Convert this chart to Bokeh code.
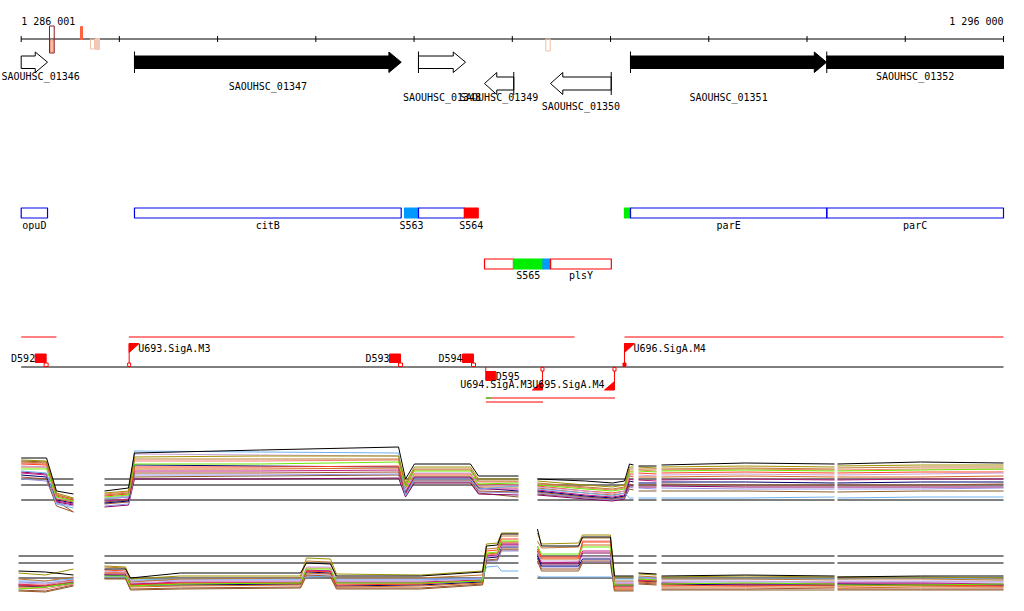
from bokeh.plotting import figure
from bokeh.models import Range1d, ColumnDataSource
from bokeh.core.properties import value
from bokeh.embed import file_html
from bokeh.resources import INLINE

# ------------------------------------------------------------------ data
VIEW_START = 1286001
VIEW_END = 1296000
RULER_TICKS = [1286001, 1287000, 1288000, 1289000, 1290000, 1291000,
               1292000, 1293000, 1294000, 1295000, 1296000]
RULER_LABELS = ["1 286 001", "1 296 000"]

# small variant marks on the ruler
MARK_START = [1286289, 1286605, 1286706, 1286757, 1291341]
MARK_END = [1286337, 1286625, 1286747, 1286798, 1291386]

# annotated genes
GENE_NAMES = ["SAOUHSC_01346", "SAOUHSC_01347", "SAOUHSC_01348", "SAOUHSC_01349",
              "SAOUHSC_01350", "SAOUHSC_01351", "SAOUHSC_01352"]
GENE_START = [1285900, 1287154, 1290045, 1290717, 1291389, 1292203, 1294201]
GENE_END = [1286269, 1289869, 1290524, 1291015, 1292007, 1294199, 1296400]
GENE_STRAND = ["+", "+", "+", "-", "-", "+", "+"]

# feature track
FEAT_NAMES = ["opuD", "citB", "S563", "", "S564", "", "S565", "", "plsY", "", "parE", "parC"]
FEAT_START = [1286001, 1287154, 1289903, 1290045, 1290513, 1290717, 1291012, 1291312,
              1291389, 1292142, 1292203, 1294201]
FEAT_END = [1286269, 1289869, 1290045, 1290513, 1290653, 1291012, 1291312, 1291389,
            1292008, 1292203, 1294201, 1296000]

# terminators and promoters
TERM_NAMES = ["D592", "D593", "D594", "D595"]
TERM_POS = [1286255, 1289862, 1290605, 1290730]
TERM_STRAND = ["+", "+", "+", "-"]
PROM_NAMES = ["U693.SigA.M3", "U694.SigA.M3", "U695.SigA.M4", "U696.SigA.M4"]
PROM_POS = [1287100, 1291307, 1292040, 1292142]
PROM_STRAND = ["+", "-", "-", "+"]
TU_START = [1286001, 1287096, 1292142]
TU_END = [1286360, 1291633, 1296000]
AS_START = [1290731, 1290731]
AS_END = [1292046, 1291313]

# expression tracks (arbitrary signal units), positions per segment
UP_POS_A = [1286001, 1286259, 1286360, 1286533]
UP_POS_B = [1286849, 1287093, 1287154, 1288437, 1289842, 1289913, 1290004, 1290574, 1290656, 1291063]
UP_POS_C = [1291256, 1291745, 1292020, 1292142, 1292193, 1292234]
UP_POS_D = [1292285, 1292468]
UP_POS_E = [1292519, 1293374, 1294280]
UP_POS_F = [1294310, 1295155, 1296000]
UP_REF_LEVELS = [42, 36, 21]

UP_S00 = [63, 63, 30, 27, 30, 33, 68, 71, 74, 42, 57, 57, 45, 45, 42, 40, 38, 40, 57, 56, 55, 55, 56, 58, 57, 57, 59, 58]
UP_S01 = [61, 60, 28, 23, 28, 30, 64, 65, 65, 38, 54, 54, 42, 42, 40, 36, 34, 36, 54, 54, 54, 53, 54, 55, 54, 55, 56, 56]
UP_S02 = [59, 58, 26, 22, 26, 28, 62, 62, 62, 36, 52, 52, 40, 40, 38, 34, 32, 34, 52, 52, 52, 52, 52, 53, 52, 53, 54, 54]
UP_S03 = [52, 52, 24, 20, 24, 26, 57, 57, 59, 34, 50, 50, 37, 38, 36, 32, 30, 32, 49, 49, 50, 49, 50, 51, 50, 50, 51, 52]
UP_S04 = [50, 48, 17, 13, 22, 24, 70, 69, 68, 25, 42, 42, 32, 35, 32, 28, 25, 28, 23, 23, 23, 23, 23, 23, 24, 23, 24, 24]
UP_S05 = [55, 54, 23, 20, 23, 25, 67, 66, 65, 31, 48, 48, 35, 36, 34, 30, 27, 30, 46, 46, 46, 45, 46, 47, 46, 46, 47, 48]
UP_S06 = [57, 56, 25, 21, 25, 27, 54, 54, 55, 33, 47, 47, 36, 36, 35, 30, 28, 30, 47, 47, 48, 47, 48, 49, 48, 48, 49, 49]
UP_S07 = [54, 54, 22, 19, 22, 24, 52, 52, 53, 30, 45, 45, 34, 34, 33, 28, 26, 28, 45, 44, 44, 44, 44, 45, 44, 44, 44, 45]
UP_S08 = [48, 46, 20, 17, 20, 22, 50, 50, 51, 28, 43, 43, 32, 32, 31, 26, 24, 26, 42, 41, 41, 40, 41, 42, 41, 41, 42, 42]
UP_S09 = [46, 44, 21, 18, 18, 20, 56, 55, 54, 29, 44, 44, 33, 30, 30, 25, 23, 25, 40, 39, 38, 38, 39, 39, 38, 38, 39, 39]
UP_S10 = [44, 42, 15, 9, 17, 19, 48, 48, 49, 27, 41, 41, 30, 29, 29, 24, 22, 24, 37, 36, 36, 36, 37, 36, 36, 36, 36, 37]
UP_S11 = [58, 57, 27, 22, 27, 29, 60, 60, 61, 35, 51, 51, 39, 39, 37, 33, 31, 33, 50, 50, 51, 50, 51, 52, 51, 51, 52, 52]
UP_S12 = [42, 40, 18, 15, 15, 17, 46, 46, 47, 26, 40, 40, 29, 28, 28, 23, 21, 23, 34, 33, 33, 32, 33, 32, 32, 32, 32, 33]
UP_S13 = [49, 47, 19, 16, 14, 16, 42, 42, 43, 24, 38, 38, 27, 26, 26, 22, 20, 22, 35, 35, 34, 34, 35, 34, 34, 34, 34, 34]
UP_S14 = [60, 59, 20, 9, 19, 21, 44, 45, 46, 25, 39, 39, 28, 24, 27, 23, 21, 23, 32, 31, 30, 30, 30, 30, 29, 29, 30, 30]

LOW_POS_A = [1285974, 1286248, 1286533]
LOW_POS_B = [1286849, 1287063, 1287114, 1287623, 1288844, 1288905, 1289149, 1289210, 1290066,
             1290697, 1290737, 1290849, 1290890, 1291063]
LOW_POS_C = [1291256, 1291297, 1291674, 1291715, 1291999, 1292040, 1292234]
LOW_POS_D = [1292285, 1292468]
LOW_POS_E = [1292519, 1293374, 1294280]
LOW_POS_F = [1294310, 1295155, 1296000]
LOW_REF_LEVELS = [45, 38, 23]

LOW_S00 = [30, 29, 26, 32, 32, 23, 28, 28, 38, 37, 25, 25, 29, 55, 56, 67, 67, 72, 55, 55, 64, 64, 25, 25, 28, 27, 25, 26, 25, 24, 25, 25]
LOW_S01 = [28, 26, 32, 35, 34, 22, 25, 25, 43, 42, 27, 26, 30, 57, 58, 68, 68, 68, 57, 58, 66, 66, 24, 24, 27, 26, 24, 25, 24, 24, 24, 23]
LOW_S02 = [22, 20, 24, 34, 33, 19, 22, 23, 40, 39, 23, 23, 26, 52, 53, 65, 65, 60, 53, 54, 63, 63, 20, 20, 25, 24, 22, 22, 21, 22, 22, 21]
LOW_S03 = [12, 14, 18, 25, 25, 15, 17, 18, 32, 32, 18, 18, 20, 48, 49, 60, 60, 55, 47, 47, 54, 54, 16, 16, 22, 21, 17, 18, 17, 16, 16, 17]
LOW_S04 = [20, 20, 22, 24, 24, 21, 22, 22, 24, 25, 22, 22, 22, 34, 35, 30, 30, 25, 24, 24, 24, 24, 22, 22, 24, 23, 22, 22, 22, 22, 23, 22]
LOW_S05 = [18, 17, 20, 30, 29, 18, 20, 20, 34, 34, 20, 20, 22, 44, 45, 55, 55, 48, 40, 40, 44, 44, 18, 18, 23, 22, 20, 20, 19, 20, 20, 20]
LOW_S06 = [16, 16, 21, 31, 30, 16, 18, 18, 30, 29, 16, 17, 21, 50, 51, 62, 62, 55, 44, 44, 59, 59, 14, 14, 20, 20, 16, 15, 16, 15, 16, 15]
LOW_S07 = [14, 14, 20, 28, 28, 14, 15, 16, 28, 27, 14, 15, 18, 47, 48, 59, 59, 52, 42, 42, 56, 56, 12, 12, 19, 18, 14, 14, 14, 13, 14, 14]
LOW_S08 = [17, 15, 19, 27, 27, 17, 19, 19, 31, 30, 19, 19, 21, 45, 46, 57, 57, 50, 38, 39, 50, 50, 17, 17, 21, 21, 18, 17, 18, 18, 18, 17]
LOW_S09 = [15, 14, 18, 26, 26, 16, 16, 17, 29, 28, 15, 16, 19, 43, 44, 54, 54, 45, 35, 35, 42, 42, 15, 15, 20, 19, 17, 16, 16, 17, 16, 16]
LOW_S10 = [11, 10, 16, 23, 23, 12, 13, 14, 26, 25, 13, 13, 17, 41, 42, 52, 52, 43, 32, 32, 40, 40, 11, 11, 18, 17, 12, 12, 13, 12, 12, 12]
LOW_S11 = [13, 12, 17, 29, 28, 15, 17, 17, 33, 33, 17, 17, 21, 46, 47, 58, 58, 52, 43, 43, 60, 60, 13, 13, 21, 20, 15, 16, 15, 15, 15, 14]
LOW_S12 = [19, 18, 21, 24, 24, 20, 21, 21, 27, 27, 21, 21, 23, 40, 40, 50, 50, 42, 34, 34, 39, 39, 19, 19, 22, 22, 19, 19, 19, 19, 19, 19]
LOW_S13 = [16, 15, 19, 26, 25, 17, 18, 18, 30, 30, 18, 18, 20, 44, 45, 56, 56, 47, 37, 37, 48, 48, 16, 16, 21, 20, 17, 17, 17, 17, 17, 16]
LOW_S14 = [10, 9, 15, 22, 22, 11, 12, 13, 25, 24, 12, 12, 16, 40, 41, 51, 51, 40, 30, 30, 38, 38, 10, 10, 17, 16, 11, 11, 11, 11, 11, 11]

# ------------------------------------------------------------------ styles / layout
FONT = value("DejaVu Sans Mono")
FS = "10px"
SERIES_COLORS = ["#000000", "#a09000", "#c07830", "#66ee00", "#70b0f0", "#c8a0d8", "#ff4020",
                 "#d2691e", "#c01a80", "#000070", "#a0522d", "#f08070", "#9890e8", "#8b0060",
                 "#8b5a2b"]
MARK_STYLE = [("#8b1a1a", None, 25.5, 52.5), ("#ff6040", "#ff6040", 26, 39),
              ("#f0c0a8", None, 38.5, 48.5), ("#f0c8b8", "#f0c8b8", 38, 49),
              ("#f0c0a8", None, 38.5, 50.5)]
GENE_FILL = ["white", "black", "white", "white", "white", "black", "black"]
GENE_LABEL_Y = [76, 85.5, 97, 97, 106, 97, 76]
BLUE, RED, LBLUE, GREEN = "#0000ee", "#ff0000", "#0099ff", "#00ee00"
FEAT_LINE = [BLUE, BLUE, LBLUE, BLUE, RED, RED, GREEN, LBLUE, RED, GREEN, BLUE, BLUE]
FEAT_FILL = [None, None, LBLUE, None, RED, None, GREEN, LBLUE, None, GREEN, None, None]
FEAT_ROW = [0, 0, 0, 0, 0, 1, 1, 1, 1, 0, 0, 0]
ROW_TOP = [207.5, 258.5]
ROW_BOT = [217.5, 268.5]
ROW_LABEL_Y = [225, 275]

PX0, PX1 = 20.7, 1003.0          # page pixel of VIEW_START / VIEW_END
W, H = 1008, 595
scale = (PX1 - PX0) / (VIEW_END - VIEW_START)   # px per bp
BP = 1.0 / scale
CHAR_W = 6.02
x_start = VIEW_START - PX0 / scale
x_end = x_start + W / scale

p = figure(width=W, height=H, x_range=Range1d(x_start, x_end), y_range=Range1d(H, 0),
           output_backend="svg", toolbar_location=None, x_axis_location=None,
           y_axis_location=None, min_border=0, outline_line_color=None,
           background_fill_color="white", border_fill_color="white")
p.xgrid.visible = False
p.ygrid.visible = False
p.extra_y_ranges = {"up": Range1d(520.5 - H, 520.5), "low": Range1d(600.5 - H, 600.5)}


def txt(xs, ys, texts, align="center", color="black"):
    src = ColumnDataSource(dict(x=xs, y=ys, t=texts))
    p.text(x="x", y="y", text="t", source=src, text_font=FONT, text_font_size=FS,
           text_align=align, text_baseline="middle", text_color=color)


# ---- ruler
p.segment(x0=[VIEW_START], y0=[38.5], x1=[VIEW_END], y1=[38.5], line_color="black")
p.segment(x0=RULER_TICKS, y0=[35.5] * len(RULER_TICKS), x1=RULER_TICKS,
          y1=[41.5] * len(RULER_TICKS), line_color="black")
txt([VIEW_START], [20.5], [RULER_LABELS[0]], align="left")
txt([VIEW_END], [20.5], [RULER_LABELS[1]], align="right")
p.quad(left=[MARK_START[0] + BP], right=[MARK_END[0] - BP], top=[39.5], bottom=[51.5],
       fill_color="#f9c4b0", line_color="#f4a080")
for s, e, (lc, fc, t, b) in zip(MARK_START, MARK_END, MARK_STYLE):
    p.quad(left=[s], right=[e], top=[t], bottom=[b], line_color=lc,
           fill_color=fc, fill_alpha=1.0 if fc else 0.0)

# ---- genes
gx, gy = [], []
bx0, by0, by1 = [], [], []
lx = []
HEAD = 125
for name, s, e, strand in zip(GENE_NAMES, GENE_START, GENE_END, GENE_STRAND):
    vs, ve = max(s, VIEW_START), min(e, VIEW_END)
    if strand == "+":
        h = HEAD if e <= VIEW_END else 0
        b = ve - h
        if h:
            gx.append([vs, b, b, ve, b, b, vs])
            gy.append([55.5, 55.5, 51.5, 61.7, 72, 68, 68])
        else:
            gx.append([vs, ve, ve, vs])
            gy.append([55.5, 55.5, 68, 68])
        if s >= VIEW_START:
            bx0.append(s); by0.append(51); by1.append(72.5)
    else:
        h = HEAD if s >= VIEW_START else 0
        b = vs + h
        gx.append([ve, b, b, vs, b, b, ve])
        gy.append([76.5, 76.5, 72, 83, 94, 89.5, 89.5])
        if e <= VIEW_END:
            bx0.append(e); by0.append(71.5); by1.append(94.5)
    # keep the label inside the picture
    half = len(name) * CHAR_W / 2 * BP
    lx.append(max((vs + ve) / 2, x_start + half + BP))
p.patches(xs=gx, ys=gy, fill_color=GENE_FILL, line_color="black", line_width=1)
p.segment(x0=bx0, y0=by0, x1=bx0, y1=by1, line_color="black")
txt(lx, GENE_LABEL_Y, GENE_NAMES)

# ---- feature boxes
for s, e, lc, fc, r in zip(FEAT_START, FEAT_END, FEAT_LINE, FEAT_FILL, FEAT_ROW):
    p.quad(left=[s], right=[e], top=[ROW_TOP[r]], bottom=[ROW_BOT[r]], line_color=lc,
           fill_color=fc if fc else "white", fill_alpha=1.0 if fc else 0.0, line_width=1.2)
txt([(s + e) / 2 for s, e in zip(FEAT_START, FEAT_END)],
    [ROW_LABEL_Y[r] for r in FEAT_ROW], FEAT_NAMES)

# ---- transcription units / promoters / terminators
p.segment(x0=TU_START, y0=[336.5] * 3, x1=TU_END, y1=[336.5] * 3, line_color=RED)
p.segment(x0=[VIEW_START], y0=[366.5], x1=[VIEW_END], y1=[366.5], line_color="black")
p.segment(x0=AS_START, y0=[397.5, 401.5], x1=AS_END, y1=[397.5, 401.5], line_color=RED)
p.segment(x0=[AS_START[0]], y0=[397.5], x1=[AS_START[0] + 5 * BP], y1=[397.5], line_color=GREEN)

for name, pos, strand in zip(TERM_NAMES, TERM_POS, TERM_STRAND):
    if strand == "+":
        p.quad(left=[pos - 11 * BP], right=[pos], top=[353.5], bottom=[362], fill_color=RED,
               line_color=RED)
        p.quad(left=[pos - 2 * BP], right=[pos + 2 * BP], top=[362.5], bottom=[366],
               fill_color="white", line_color=RED)
        txt([pos - 11 * BP], [358], [name], align="right")
    else:
        p.segment(x0=[pos], y0=[366.5], x1=[pos], y1=[371.5], line_color=RED)
        p.quad(left=[pos], right=[pos + 10 * BP], top=[371], bottom=[380], fill_color=RED,
               line_color=RED)
        txt([pos + 10 * BP], [375.5], [name], align="left")

for name, pos, strand in zip(PROM_NAMES, PROM_POS, PROM_STRAND):
    if strand == "+":
        p.segment(x0=[pos], y0=[343], x1=[pos], y1=[366], line_color=RED)
        p.patches(xs=[[pos, pos + 10 * BP, pos]], ys=[[343, 343, 352]], fill_color=RED,
                  line_color=RED)
        filled = name.startswith("U696")
        p.quad(left=[pos - 1.5 * BP], right=[pos + 1.5 * BP], top=[362.5], bottom=[366],
               fill_color=RED if filled else "white", line_color=RED)
        txt([pos + 9 * BP], [347.5], [name], align="left")
    else:
        p.segment(x0=[pos], y0=[367], x1=[pos], y1=[389.5], line_color=RED)
        p.patches(xs=[[pos, pos - 10 * BP, pos]], ys=[[389.5, 389.5, 381]], fill_color=RED,
                  line_color=RED)
        p.quad(left=[pos - 1.5 * BP], right=[pos + 1.5 * BP], top=[367], bottom=[370.5],
               fill_color="white", line_color=RED)
        txt([pos - 10 * BP], [384], [name], align="right")


# ---- expression tracks
def add_track(segments, series, ref_levels, rname):
    xs, ys, cs = [], [], []
    for lvl in ref_levels:
        for seg in segments:
            xs.append([seg[0], seg[-1]])
            ys.append([lvl, lvl])
            cs.append("#000000")
    order = list(range(len(series) - 1, 0, -1)) + [0]
    for k in order:
        vals = series[k]
        i = 0
        for seg in segments:
            n = len(seg)
            xs.append(list(seg))
            ys.append(vals[i:i + n])
            cs.append(SERIES_COLORS[k])
            i += n
    src = ColumnDataSource(dict(xs=xs, ys=ys, c=cs))
    p.multi_line(xs="xs", ys="ys", line_color="c", source=src, line_width=1,
                 y_range_name=rname)


add_track([UP_POS_A, UP_POS_B, UP_POS_C, UP_POS_D, UP_POS_E, UP_POS_F],
          [UP_S00, UP_S01, UP_S02, UP_S03, UP_S04, UP_S05, UP_S06, UP_S07, UP_S08, UP_S09,
           UP_S10, UP_S11, UP_S12, UP_S13, UP_S14], UP_REF_LEVELS, "up")
add_track([LOW_POS_A, LOW_POS_B, LOW_POS_C, LOW_POS_D, LOW_POS_E, LOW_POS_F],
          [LOW_S00, LOW_S01, LOW_S02, LOW_S03, LOW_S04, LOW_S05, LOW_S06, LOW_S07, LOW_S08,
           LOW_S09, LOW_S10, LOW_S11, LOW_S12, LOW_S13, LOW_S14], LOW_REF_LEVELS, "low")

open("out.html", "w").write(file_html(p, INLINE))
